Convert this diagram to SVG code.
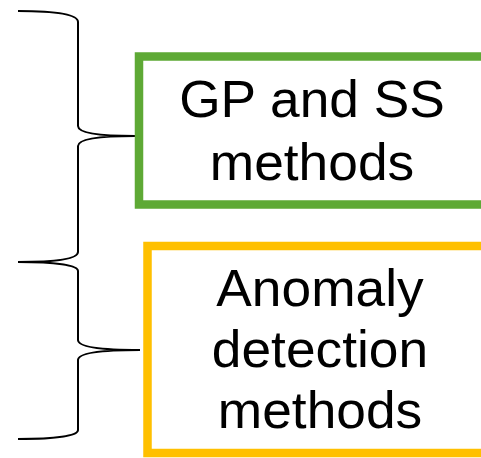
<svg xmlns="http://www.w3.org/2000/svg" width="481" height="458" viewBox="0 0 481 458">
<style>
.brace{fill:none;stroke:#000;stroke-width:2}
.box{fill:#fff;stroke-width:8.5}
.lbl{font-family:"Liberation Sans",Arial,sans-serif;font-size:51px;fill:#000;text-anchor:middle}
</style>
<rect width="481" height="458" fill="#fff"/>
<g id="connectors">
<path class="brace" d="M18,11 C55,11 78,14 78,22 L78,126 C78,133 100,136 135,136 C100,136 78,139 78,146 L78,252 C78,259 55,262 18,262"/>
<path class="brace" d="M18,262 C55,262 78,265 78,271 L78,340 C78,347 100,350 140,350 C100,350 78,353 78,360 L78,430 C78,436 55,439 18,439"/>
</g>
<g id="gp-ss">
<rect class="box" x="139" y="56.5" width="400" height="148" stroke="#5EA935"/>
<g transform="translate(312,0) scale(1.045,1) translate(-312,0)">
<text class="lbl" x="312" y="117">GP and SS</text>
<text class="lbl" x="312" y="180">methods</text>
</g>
</g>
<g id="anomaly">
<rect class="box" x="147.5" y="246" width="400" height="207" stroke="#FFC000"/>
<g transform="translate(320,0) scale(1.045,1) translate(-320,0)">
<text class="lbl" x="320" y="306">Anomaly</text>
<text class="lbl" x="320" y="367">detection</text>
<text class="lbl" x="320" y="428">methods</text>
</g>
</g>
</svg>
